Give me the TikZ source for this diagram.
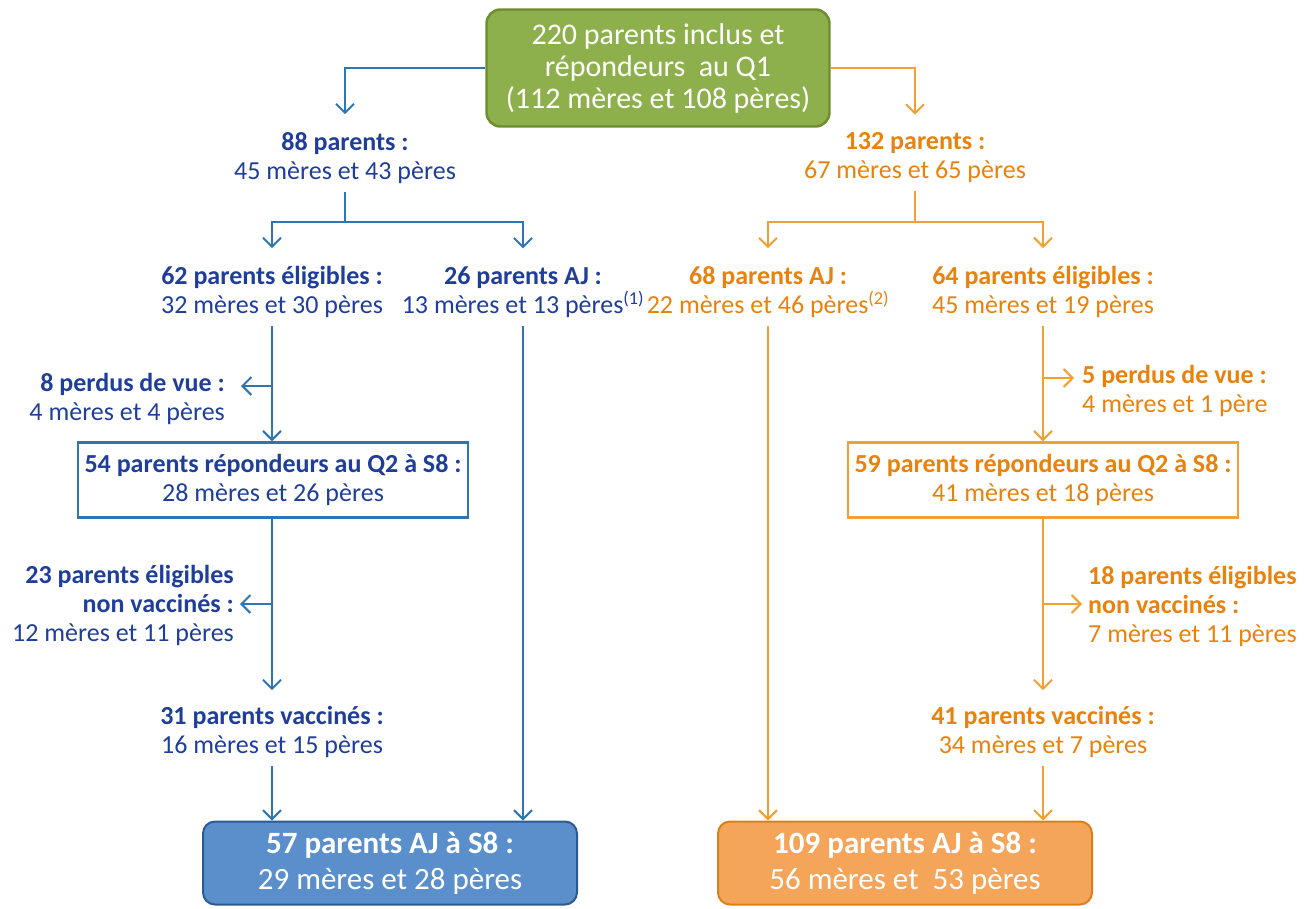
\documentclass[tikz,border=0pt]{standalone}
\usepackage{fontspec}
\setmainfont{Carlito}
\usetikzlibrary{arrows.meta,calc}
\definecolor{bdark}{HTML}{1F3E9A}
\definecolor{bline}{HTML}{2E75B6}
\definecolor{odark}{HTML}{E8820C}
\definecolor{oline}{HTML}{F2A033}
\definecolor{gfill}{HTML}{8DB04C}
\definecolor{gdraw}{HTML}{6C8C2E}
\definecolor{bfill}{HTML}{5A8FCB}
\definecolor{bdraw}{HTML}{2C5A93}
\definecolor{ofill}{HTML}{F5A55A}
\definecolor{odraw}{HTML}{D9801A}
\begin{document}
\begin{tikzpicture}[x=1pt,y=-1pt,
  lbl/.style={inner sep=0pt, font=\fontsize{26}{29}\selectfont},
  blbl/.style={lbl,text=bdark},
  olbl/.style={lbl,text=odark},
  tip/.style={-{Straight Barb[length=9pt,width=18pt,line width=2pt]}},
  bcon/.style={draw=bline,line width=1.6pt},
  ocon/.style={draw=oline,line width=1.6pt},
  sqbox/.style={draw,line width=2.4pt,fill=white,minimum width=390pt,minimum height=75pt,inner sep=0pt,align=center,font=\fontsize{26}{29}\selectfont},
  fbox/.style={draw,line width=2pt,rounded corners=12pt,minimum width=374pt,minimum height=83pt,inner sep=0pt,align=center,text=white,font=\fontsize{31}{36}\selectfont},
  topbox/.style={draw=gdraw,fill=gfill,line width=2.4pt,rounded corners=14pt,minimum width=343pt,minimum height=117pt,inner sep=0pt,align=center,text=white,font=\fontsize{30}{32}\selectfont}
]
\useasboundingbox (0,0) rectangle (1309,908);

% top
\node[topbox] (top) at (658,68) {220 parents inclus et\\répondeurs\ \ au Q1\\(112 mères et 108 pères)};

% level 1
\node[blbl,align=center] (p88) at (345,158) {\textbf{88 parents :}\\45 mères et 43 pères};
\node[olbl,align=center] (p132) at (915,158) {\textbf{132 parents :}\\67 mères et 65 pères};

% level 2
\node[blbl,align=center] (p62) at (272,292) {\textbf{62 parents éligibles :}\\32 mères et 30 pères};
\node[blbl,align=center] (p26) at (523,292) {\textbf{26 parents AJ :}\\13 mères et 13 pères\textsuperscript{(1)}};
\node[olbl,align=center] (p68) at (768,292) {\textbf{68 parents AJ :}\\22 mères et 46 pères\textsuperscript{(2)}};
\node[olbl,align=center] (p64) at (1043,292) {\textbf{64 parents éligibles :}\\45 mères et 19 pères};

% lost
\node[blbl,align=right,anchor=east] (pv8) at (225,399) {\textbf{8 perdus de vue :}\\4 mères et 4 pères};
\node[olbl,align=left,anchor=west] (pv5) at (1082,391) {\textbf{5 perdus de vue :}\\4 mères et 1 père};

% boxes Q2
\node[sqbox,draw=bline,text=bdark] (b54) at (273,480) {\textbf{54 parents répondeurs au Q2 à S8 :}\\28 mères et 26 pères};
\node[sqbox,draw=oline,text=odark] (b59) at (1043,480) {\textbf{59 parents répondeurs au Q2 à S8 :}\\41 mères et 18 pères};

% non vaccinated
\node[blbl,align=right,anchor=east] (n23) at (234,605) {\textbf{23 parents éligibles}\\\textbf{non vaccinés :}\\12 mères et 11 pères};
\node[olbl,align=left,anchor=west] (n18) at (1088,606) {\textbf{18 parents éligibles}\\\textbf{non vaccinés :}\\7 mères et 11 pères};

% vaccinated
\node[blbl,align=center] (v31) at (272,732) {\textbf{31 parents vaccinés :}\\16 mères et 15 pères};
\node[olbl,align=center] (v41) at (1043,732) {\textbf{41 parents vaccinés :}\\34 mères et 7 pères};

% final boxes
\node[fbox,draw=bdraw,fill=bfill] (f57) at (390,863) {\textbf{57 parents AJ à S8 :}\\29 mères et 28 pères};
\node[fbox,draw=odraw,fill=ofill] (f109) at (905,863) {\textbf{109 parents AJ à S8 :}\\56 mères et\ \ 53 pères};

% connectors top
\draw[bcon,tip,shorten >=18pt] (top.west) -| (p88.north);
\draw[ocon,tip,shorten >=18pt] (top.east) -| (p132.north);

% blue split
\coordinate (sb) at (345,222);
\draw[bcon,shorten <=8pt] (p88.south) -- (sb);
\draw[bcon,tip,shorten >=18pt] (sb) -| (p62.north);
\draw[bcon,tip,shorten >=18pt] (sb) -| (p26.north);

% orange split
\coordinate (so) at (915,222);
\draw[ocon,shorten <=8pt] (p132.south) -- (so);
\draw[ocon,tip,shorten >=18pt] (so) -| (p68.north);
\draw[ocon,tip,shorten >=18pt] (so) -| (p64.north);

% blue column
\draw[bcon,tip,shorten <=8pt] (p62.south) -- (p62.south |- b54.north);
\coordinate (jb1) at (272,386);
\draw[bcon,tip,shorten >=16pt] (jb1) -- (jb1 -| pv8.east);
\draw[bcon,tip,shorten >=16pt] (p62.south |- b54.south) -- (v31.north);
\coordinate (jb2) at (272,604);
\draw[bcon,tip,shorten >=6pt] (jb2) -- (jb2 -| n23.east);
\draw[bcon,tip,shorten <=8pt] (v31.south) -- (v31.south |- f57.north);
\draw[bcon,tip,shorten <=8pt] (p26.south) -- (p26.south |- f57.north);

% orange column
\draw[ocon,tip,shorten <=8pt] (p64.south) -- (p64.south |- b59.north);
\coordinate (jo1) at (1043,378);
\draw[ocon,tip,shorten >=8pt] (jo1) -- (jo1 -| pv5.west);
\draw[ocon,tip,shorten >=16pt] (b59.south) -- (v41.north);
\coordinate (jo2) at (1043,604);
\draw[ocon,tip,shorten >=6pt] (jo2) -- (jo2 -| n18.west);
\draw[ocon,tip,shorten <=8pt] (v41.south) -- (v41.south |- f109.north);
\draw[ocon,tip,shorten <=8pt] (p68.south) -- (p68.south |- f109.north);
\end{tikzpicture}
\end{document}
